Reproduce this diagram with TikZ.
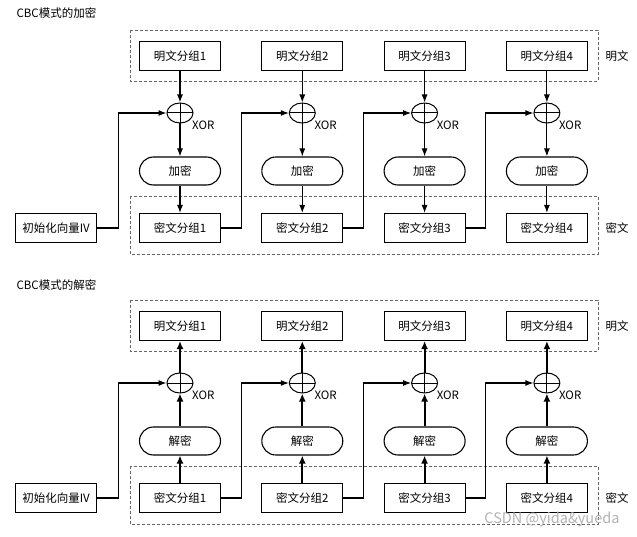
\documentclass[tikz,border=0pt]{standalone}
\usepackage{fontspec}
\setmainfont{Noto Sans CJK SC}
\usetikzlibrary{arrows.meta,shapes.geometric}

\tikzset{
  txt/.style={font=\fontsize{11.5}{13}\selectfont},
  blk/.style={txt,draw,line width=1.1pt,minimum width=81pt,minimum height=29pt,inner sep=0pt},
  pill/.style={blk,rounded corners=14pt,minimum height=28pt},
  xorop/.style={draw,ellipse,line width=1pt,minimum width=26pt,minimum height=20pt,inner sep=0pt,
    path picture={\draw[line width=1pt] (path picture bounding box.west) -- (path picture bounding box.east)
      (path picture bounding box.north) -- (path picture bounding box.south);}},
  grp/.style={draw,densely dashed,line width=0.5pt,black!60},
  flow/.style={-{Latex[length=8pt,width=6pt]},line width=1.1pt},
  bflow/.style={-{Latex[length=8pt,width=7pt]},line width=2pt},
  feed/.style={-{Latex[length=8pt,width=6pt]},line width=1.1pt}
}

\begin{document}
\begin{tikzpicture}[x=1pt,y=-1pt]
  \useasboundingbox (0,0) rectangle (637,537);

  % CBC encryption
  \node[txt,anchor=west] (tenc) at (13,13) {CBC模式的加密};
  \draw[grp] (130,30) rectangle (598,81);
  \draw[grp] (130,196) rectangle (598,254);
  \node[txt] (lpe) at (617,56) {明文};
  \node[txt] (lce) at (617,228) {密文};
  \node[blk] (ive) at (56,228) {初始化向量IV};
  \foreach \i in {1,...,4} {
      \pgfmathsetmacro\cx{180+122.3*(\i-1)}
      \node[blk] (pe\i) at (\cx,56) {明文分组\i};
      \node[xorop] (xe\i) at (\cx,113) {};
      \node[txt,anchor=west,inner sep=0pt] (xle\i) at (\cx+12,125) {XOR};
      \node[pill] (enc\i) at (\cx,171) {加密};
      \node[blk] (ce\i) at (\cx,228) {密文分组\i};
      \draw[flow] (pe\i) -- (xe\i);
      \draw[flow] (xe\i) -- (enc\i);
      \draw[flow] (enc\i) -- (ce\i);
    }
  \draw[feed] (ive.east) -- ++(21,0) |- (xe1.west);
  \foreach \i [count=\j from 2] in {1,2,3} {
      \draw[feed] (ce\i.east) -- ++(20,0) |- (xe\j.west);
    }

  % CBC decryption
  \node[txt,anchor=west] (tdec) at (13,285) {CBC模式的解密};
  \draw[grp] (130,300) rectangle (598,351);
  \draw[grp] (130,466) rectangle (598,524);
  \node[txt] (lpd) at (617,326) {明文};
  \node[txt] (lcd) at (617,498) {密文};
  \node[blk] (ivd) at (56,498) {初始化向量IV};
  \foreach \i in {1,...,4} {
      \pgfmathsetmacro\cx{180+122.3*(\i-1)}
      \node[blk] (pd\i) at (\cx,326) {明文分组\i};
      \node[xorop] (xd\i) at (\cx,383) {};
      \node[txt,anchor=west,inner sep=0pt] (xld\i) at (\cx+12,395) {XOR};
      \node[pill] (dec\i) at (\cx,441) {解密};
      \node[blk] (cd\i) at (\cx,498) {密文分组\i};
      \draw[bflow] (cd\i) -- (dec\i);
      \draw[bflow] (dec\i) -- (xd\i);
      \draw[bflow] (xd\i) -- (pd\i);
    }
  \draw[feed] (ivd.east) -- ++(21,0) |- (xd1.west);
  \foreach \i [count=\j from 2] in {1,2,3} {
      \draw[feed] (cd\i.east) -- ++(20,0) |- (xd\j.west);
    }

  \node[anchor=east,text=black!30,font=\fontsize{14.5}{16}\selectfont] (wm) at (623,519) {CSDN @yida\&yueda};
\end{tikzpicture}
\end{document}
